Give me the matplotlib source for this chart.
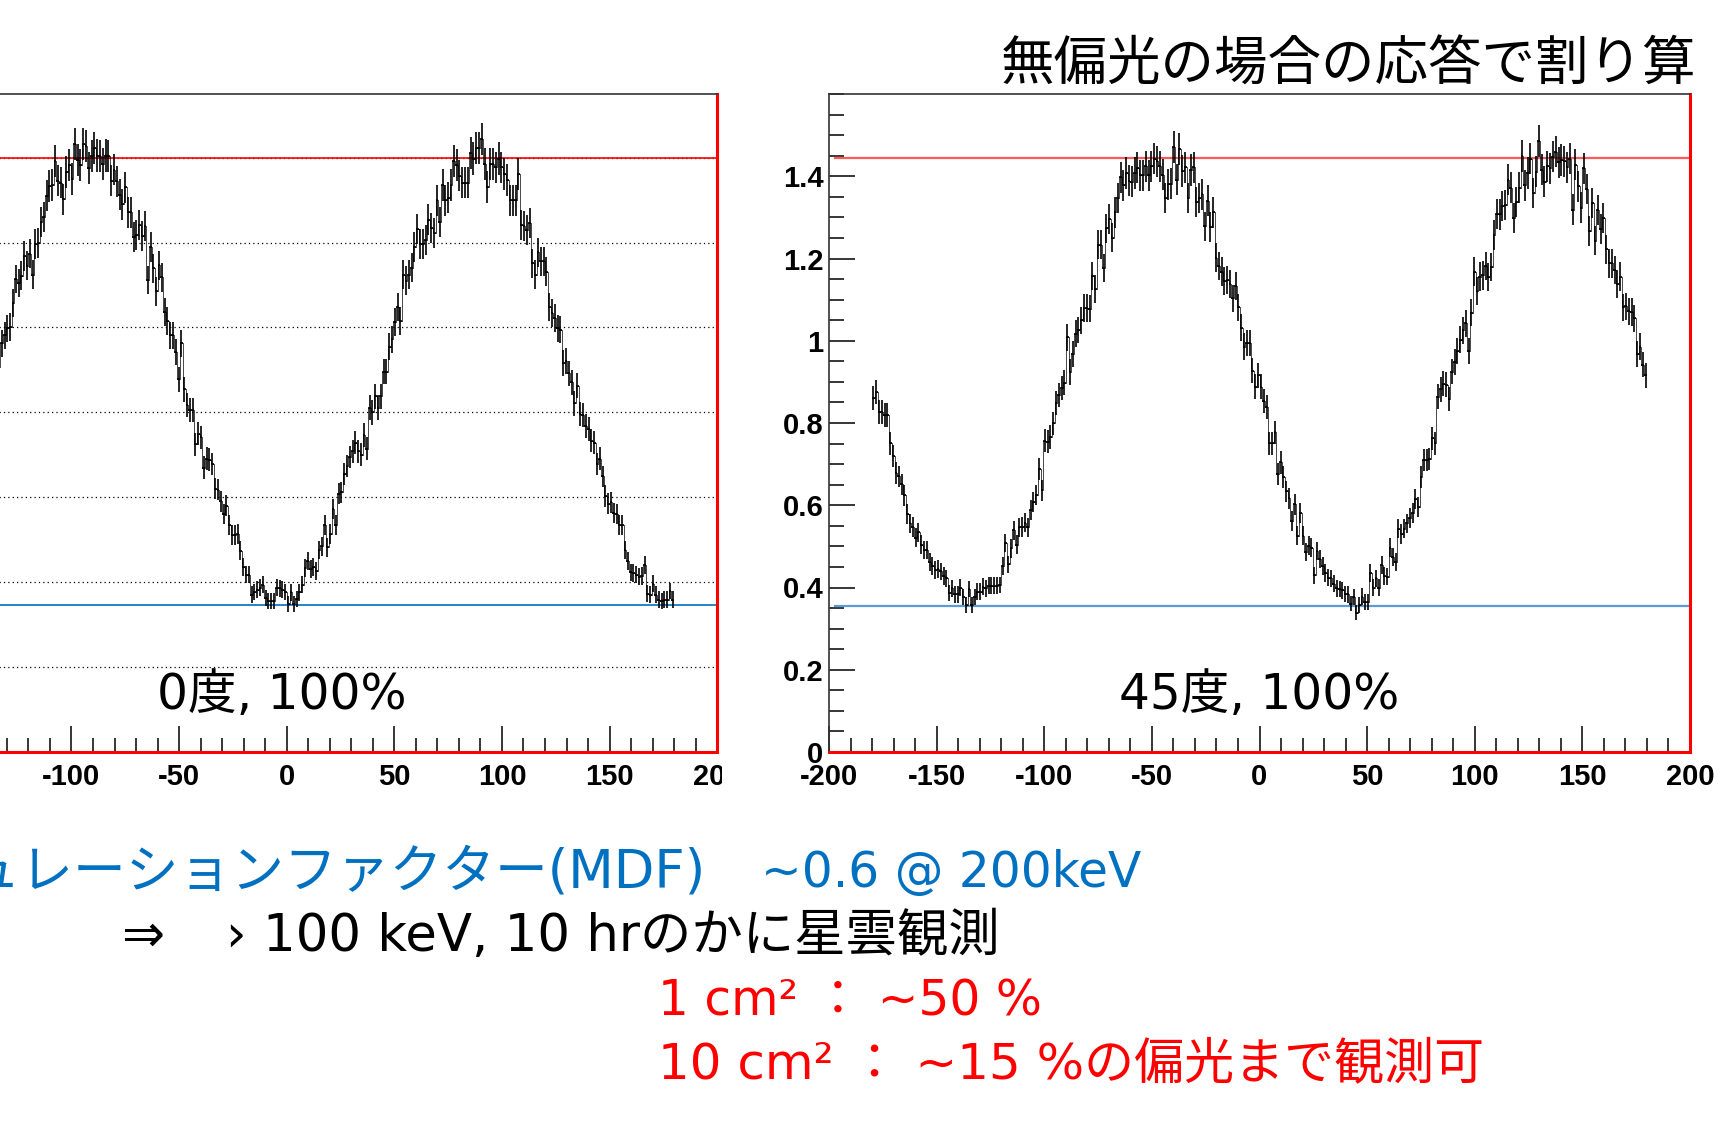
import numpy as np
import matplotlib.pyplot as plt
from matplotlib.ticker import MultipleLocator
from matplotlib.transforms import Bbox, TransformedBbox

plt.rcParams['font.family'] = ['DejaVu Sans', 'Noto Sans CJK JP']
plt.rcParams['axes.unicode_minus'] = False

# modulation curves divided by the unpolarised response (100% polarised beam)
# 45 deg polarisation, full range -180..180
ratio_45 = [
    0.861, 0.875, 0.826, 0.826, 0.82, 0.82, 0.751, 0.72, 0.679, 0.67,
    0.651, 0.624, 0.578, 0.556, 0.547, 0.521, 0.534, 0.504, 0.491, 0.491,
    0.462, 0.452, 0.443, 0.445, 0.439, 0.428, 0.422, 0.387, 0.398, 0.383,
    0.383, 0.4, 0.376, 0.357, 0.396, 0.357, 0.376, 0.39, 0.39, 0.402,
    0.398, 0.404, 0.404, 0.404, 0.404, 0.406, 0.452, 0.508, 0.456, 0.495,
    0.539, 0.504, 0.546, 0.547, 0.558, 0.546, 0.589, 0.608, 0.625, 0.688,
    0.636, 0.757, 0.755, 0.766, 0.799, 0.849, 0.868, 0.885, 0.898, 1.008,
    0.924, 0.968, 1.017, 1.026, 1.05, 1.08, 1.08, 1.078, 1.158, 1.125,
    1.234, 1.234, 1.177, 1.273, 1.297, 1.251, 1.312,
    1.347, 1.397, 1.378, 1.408, 1.389, 1.387, 1.408, 1.421, 1.402, 1.402,
    1.424, 1.402, 1.424, 1.443, 1.436, 1.424, 1.404, 1.347, 1.38, 1.382,
    1.471, 1.391, 1.467, 1.413, 1.422, 1.347, 1.415, 1.422, 1.337, 1.347,
    1.356, 1.278, 1.341, 1.276, 1.312, 1.202, 1.182, 1.168, 1.146, 1.148,
    1.139, 1.103, 1.133, 1.081, 1.032, 0.986, 0.994, 0.994, 0.927, 0.888,
    0.916, 0.888, 0.853, 0.838, 0.751, 0.751, 0.777, 0.676, 0.704, 0.669,
    0.634, 0.617, 0.561, 0.602, 0.526, 0.582, 0.526, 0.487, 0.502, 0.497,
    0.43, 0.489, 0.47, 0.452, 0.435, 0.424, 0.422, 0.409, 0.398, 0.396,
    0.393, 0.384, 0.383, 0.361, 0.376, 0.339, 0.358, 0.378, 0.365, 0.364,
    0.435, 0.4, 0.422, 0.4, 0.454, 0.428, 0.426, 0.497, 0.474,
    0.462, 0.543, 0.53, 0.543, 0.556, 0.569, 0.582, 0.615, 0.595, 0.669,
    0.711, 0.711, 0.712, 0.763, 0.751, 0.864, 0.882, 0.895, 0.893, 0.858,
    0.925, 0.948, 0.974, 1.003, 1.025, 1.042, 0.974, 1.068, 1.168, 1.122,
    1.156, 1.159, 1.182, 1.155, 1.179, 1.257, 1.309, 1.307, 1.328, 1.33,
    1.391, 1.372, 1.298, 1.337, 1.372, 1.449, 1.378, 1.408, 1.443, 1.359,
    1.411, 1.486, 1.416, 1.387, 1.424, 1.419, 1.448, 1.46, 1.434, 1.439,
    1.436, 1.422, 1.443, 1.319, 1.428, 1.376, 1.324, 1.419, 1.369, 1.267,
    1.335, 1.243, 1.317, 1.271, 1.298, 1.222, 1.188, 1.188, 1.172, 1.139,
    1.156, 1.081, 1.084, 1.072, 1.07, 1.055, 0.968, 0.986, 0.942, 0.916,
]

# 0 deg polarisation, only the bins from about -134 deg upward are on the slide
ratio_0 = [
    0.863, 0.906, 0.963, 0.982, 0.998, 1.001, 1.057, 1.114, 1.105, 1.122,
    1.168, 1.146, 1.174, 1.124, 1.197, 1.199, 1.248, 1.26, 1.31, 1.333,
    1.336, 1.392, 1.346, 1.341, 1.302, 1.367, 1.383, 1.35, 1.432, 1.394,
    1.383, 1.432, 1.428, 1.375, 1.403, 1.423, 1.405, 1.403, 1.386, 1.405,
    1.403, 1.346, 1.372, 1.344, 1.313, 1.29, 1.33, 1.271, 1.271, 1.213,
    1.218, 1.241, 1.216, 1.239, 1.112, 1.189, 1.139, 1.085, 1.147, 1.118,
    1.037, 1.015, 0.982, 0.982, 0.942, 0.878, 0.963, 0.854, 0.817, 0.806,
    0.806, 0.725, 0.75, 0.741, 0.67, 0.691, 0.689, 0.679, 0.62, 0.618,
    0.591, 0.56, 0.58, 0.535, 0.511, 0.511, 0.513, 0.474,
    0.436, 0.418, 0.418, 0.371, 0.377, 0.382, 0.387, 0.394, 0.362, 0.356,
    0.356, 0.356, 0.387, 0.386, 0.382, 0.377, 0.348, 0.376, 0.348, 0.361,
    0.376, 0.394, 0.434, 0.449, 0.432, 0.436, 0.426, 0.476, 0.485, 0.535,
    0.482, 0.513, 0.572, 0.535, 0.608, 0.612, 0.655, 0.674, 0.695, 0.708,
    0.729, 0.708, 0.7, 0.747, 0.714, 0.811, 0.8, 0.838, 0.811, 0.838,
    0.896, 0.896, 0.955, 0.972, 1.013, 1.049, 1.015, 1.124, 1.11, 1.124,
    1.141, 1.189, 1.231, 1.197, 1.197, 1.206, 1.254, 1.235, 1.223, 1.3,
    1.249, 1.336, 1.3, 1.306, 1.336, 1.392, 1.382, 1.358, 1.341, 1.341,
    1.341, 1.411, 1.398, 1.423, 1.423, 1.444, 1.386,
    1.331, 1.386, 1.386, 1.377, 1.398, 1.377, 1.361, 1.348, 1.3, 1.3,
    1.3, 1.361, 1.241, 1.239, 1.229, 1.246, 1.151, 1.124, 1.177, 1.156,
    1.156, 1.131, 1.049, 1.034, 1.022, 0.998, 0.995, 0.917, 0.921, 0.892,
    0.871, 0.821, 0.863, 0.796, 0.794, 0.767, 0.761, 0.733, 0.729, 0.679,
    0.691, 0.649, 0.603, 0.585, 0.588, 0.563, 0.56, 0.535, 0.535, 0.476,
    0.449, 0.423, 0.421, 0.418, 0.413, 0.415, 0.44, 0.373, 0.371, 0.396,
    0.371, 0.359, 0.356, 0.359, 0.359, 0.379, 0.359,
]

# fitted max / min levels
max_45, min_45 = 1.445, 0.355
max_0, min_0 = 1.40, 0.347
grid_0 = [0.2, 0.4, 0.6, 0.8, 1.0, 1.2, 1.4]
err_scale = 0.032   # counting error ~ sqrt(ratio)

ytick_vals = [0, 0.2, 0.4, 0.6, 0.8, 1.0, 1.2, 1.4]
ytick_text = ['0', '0.2', '0.4', '0.6', '0.8', '1', '1.2', '1.4']

n_bins = len(ratio_45)
edges = np.linspace(-180, 180, n_bins + 1)
centers = 0.5 * (edges[:-1] + edges[1:])
half_w = 0.5 * (edges[1] - edges[0])

W, H = 1729, 1143
fig = plt.figure(figsize=(W / 100, H / 100), dpi=100)

tick_font = dict(family=['Liberation Sans Narrow', 'Liberation Sans'], weight='bold', size=21)


def draw_hist(ax, x, y):
    y = np.asarray(y)
    ax.step(x, y, where='mid', color='black', lw=0.5, zorder=3)
    ax.errorbar(x, y, xerr=half_w, yerr=err_scale * np.sqrt(y), fmt='none',
                ecolor='black', elinewidth=1.2, capsize=0, zorder=4)


def style_frame(ax):
    ax.set_xlim(-200, 200)
    ax.xaxis.set_major_locator(MultipleLocator(50))
    ax.xaxis.set_minor_locator(MultipleLocator(10))
    ax.tick_params(axis='x', which='major', direction='in', length=19, width=1.1, pad=8)
    ax.tick_params(axis='x', which='minor', direction='in', length=10, width=1.1)
    for side in ['left', 'top']:
        ax.spines[side].set_color('#333333')
        ax.spines[side].set_linewidth(1.2)
    for side in ['right', 'bottom']:
        ax.spines[side].set_color('red')
        ax.spines[side].set_linewidth(2.2)
    for lab in ax.get_xticklabels():
        lab.set(**tick_font)


# left panel: 0 deg
ax0 = fig.add_axes([-143.8 / W, 1 - 752 / H, 861 / W, 658 / H])
ax0.set_ylim(0, 1.55)
style_frame(ax0)
ax0.set_yticks([])
for g in grid_0:
    ax0.axhline(g, color='black', lw=0.9, ls=(0, (1, 2.5)), zorder=1)
ax0.axhline(max_0, color='red', lw=1.2, zorder=2)
ax0.axhline(min_0, color='#0070c0', lw=1.2, zorder=2)
draw_hist(ax0, centers[-len(ratio_0):], ratio_0)
clip = TransformedBbox(Bbox([[0, 0], [722 / W, 1]]), fig.transFigure)
for lab in ax0.get_xticklabels():
    lab.set_clip_box(clip)
    lab.set_clip_on(True)

# right panel: 45 deg
ax1 = fig.add_axes([829 / W, 1 - 752 / H, 861 / W, 658 / H])
ax1.set_ylim(0, 1.6)
style_frame(ax1)
ax1.set_yticks(ytick_vals, ytick_text)
ax1.yaxis.set_minor_locator(MultipleLocator(0.05))
ax1.tick_params(axis='y', which='major', direction='in', length=19, width=1.1, pad=4)
ax1.tick_params(axis='y', which='minor', direction='in', length=11, width=1.1)
for lab in ax1.get_yticklabels():
    lab.set(**tick_font)
ax1.plot([-197, 200], [max_45, max_45], color='#ff5a5a', lw=1.6, zorder=2)
ax1.plot([-197, 200], [min_45, min_45], color='#5b9bd5', lw=1.6, zorder=2)
draw_hist(ax1, centers, ratio_45)

# labels
fig.text(1696 / W, 1 - 65 / H, '無偏光の場合の応答で割り算', ha='right', va='center',
         fontsize=38.5, family=['Noto Sans CJK JP'])
fig.text(282 / W, 1 - 695 / H, '0度, 100%', ha='center', va='center', fontsize=35)
fig.text(1259 / W, 1 - 695 / H, '45度, 100%', ha='center', va='center', fontsize=35)

fig.text(706 / W, 1 - 873 / H, 'モジュレーションファクター(MDF)', ha='right', va='center',
         fontsize=38, color='#0070c0')
fig.text(761 / W, 1 - 873 / H, '~0.6 @ 200keV', ha='left', va='center',
         fontsize=35, color='#0070c0')
fig.text(121 / W, 1 - 937 / H, '⇒', ha='left', va='center', fontsize=37)
fig.text(226 / W, 1 - 937 / H, '› 100 keV, 10 hrのかに星雲観測', ha='left', va='center',
         fontsize=37)
fig.text(658 / W, 1 - 1001 / H, '1 cm² ： ~50 %', ha='left', va='center',
         fontsize=35, color='red')
fig.text(658 / W, 1 - 1064 / H, '10 cm² ： ~15 %の偏光まで観測可', ha='left', va='center',
         fontsize=36, color='red')

fig.savefig('out.png', dpi=100)
